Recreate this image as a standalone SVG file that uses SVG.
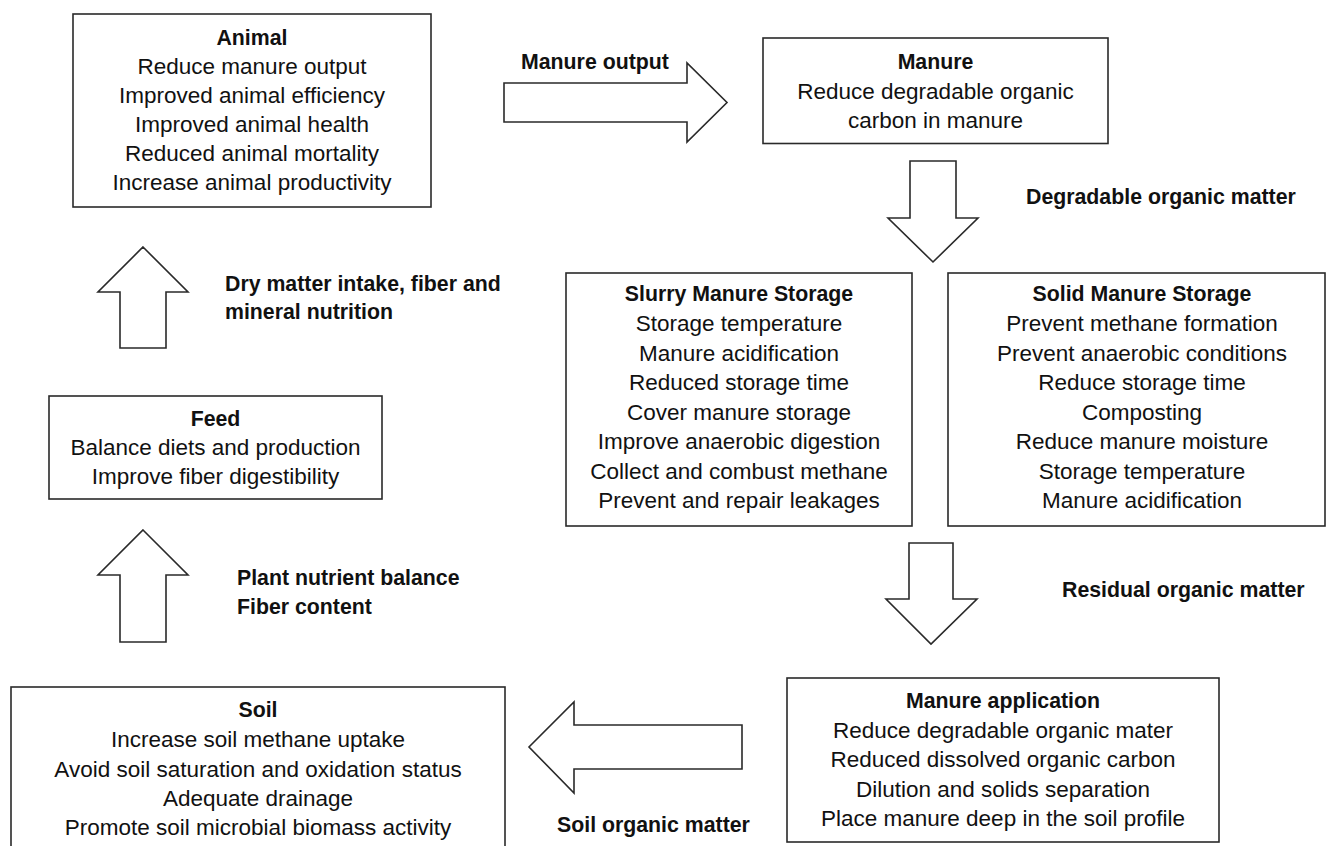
<svg xmlns="http://www.w3.org/2000/svg" width="1330" height="846" viewBox="0 0 1330 846">
<style>
.box{fill:#fff;stroke:#2a2a2a;stroke-width:1.6}
.arr{fill:#fff;stroke:#2a2a2a;stroke-width:1.6;stroke-linejoin:miter}
text{font-family:"Liberation Sans",Arial,sans-serif;fill:#111}
.t{font-size:22.5px;text-anchor:middle}
.h{font-size:21.3px;font-weight:bold;text-anchor:middle}
.lbl{font-size:21.3px;font-weight:bold;text-anchor:start}
</style>
<rect width="1330" height="846" fill="#fff"/>
<g id="connectors">
<polygon class="arr" points="504,83 687,83 687,63 727,102.5 687,142 687,122 504,122"/>
<polygon class="arr" points="910,161 956,161 956,218 978,218 933,262 888,218 910,218"/>
<polygon class="arr" points="909,543 953,543 953,599 977,599 931,644 886,599 909,599"/>
<polygon class="arr" points="742,725 742,769 574,769 574,793 529,747 574,702 574,725"/>
<polygon class="arr" points="143,530 188,575 166,575 166,642 120,642 120,575 98,575"/>
<polygon class="arr" points="143,247 188,292 166,292 166,348 120,348 120,292 98,292"/>
<text class="lbl" x="521" y="69">Manure output</text>
<text class="lbl" x="1026" y="204">Degradable organic matter</text>
<text class="lbl" x="1062" y="597">Residual organic matter</text>
<text class="lbl" x="557" y="832">Soil organic matter</text>
<text class="lbl" x="237" y="585">Plant nutrient balance</text>
<text class="lbl" x="237" y="614">Fiber content</text>
<text class="lbl" x="225" y="291">Dry matter intake, fiber and</text>
<text class="lbl" x="225" y="319">mineral nutrition</text>
</g>
<g id="animal">
<rect class="box" x="73" y="14" width="358" height="193"/>
<text class="h" x="252" y="45">Animal</text>
<text class="t" x="252" y="74">Reduce manure output</text>
<text class="t" x="252" y="103">Improved animal efficiency</text>
<text class="t" x="252" y="132">Improved animal health</text>
<text class="t" x="252" y="160.5">Reduced animal mortality</text>
<text class="t" x="252" y="189.5">Increase animal productivity</text>
</g>
<g id="manure">
<rect class="box" x="763" y="38" width="345" height="105.5"/>
<text class="h" x="935.5" y="69">Manure</text>
<text class="t" x="935.5" y="98.5">Reduce degradable organic</text>
<text class="t" x="935.5" y="127.5">carbon in manure</text>
</g>
<g id="slurry">
<rect class="box" x="566" y="273" width="346" height="253"/>
<text class="h" x="739" y="301">Slurry Manure Storage</text>
<text class="t" x="739" y="331">Storage temperature</text>
<text class="t" x="739" y="361">Manure acidification</text>
<text class="t" x="739" y="390">Reduced storage time</text>
<text class="t" x="739" y="419.5">Cover manure storage</text>
<text class="t" x="739" y="449">Improve anaerobic digestion</text>
<text class="t" x="739" y="478.5">Collect and combust methane</text>
<text class="t" x="739" y="507.5">Prevent and repair leakages</text>
</g>
<g id="solid">
<rect class="box" x="948" y="273" width="377" height="253"/>
<text class="h" x="1142" y="301">Solid Manure Storage</text>
<text class="t" x="1142" y="331">Prevent methane formation</text>
<text class="t" x="1142" y="361">Prevent anaerobic conditions</text>
<text class="t" x="1142" y="390">Reduce storage time</text>
<text class="t" x="1142" y="419.5">Composting</text>
<text class="t" x="1142" y="449">Reduce manure moisture</text>
<text class="t" x="1142" y="478.5">Storage temperature</text>
<text class="t" x="1142" y="507.5">Manure acidification</text>
</g>
<g id="feed">
<rect class="box" x="49" y="396" width="333" height="103"/>
<text class="h" x="215.5" y="426">Feed</text>
<text class="t" x="215.5" y="455">Balance diets and production</text>
<text class="t" x="215.5" y="484">Improve fiber digestibility</text>
</g>
<g id="manure-application">
<rect class="box" x="787" y="678" width="432" height="164"/>
<text class="h" x="1003" y="708">Manure application</text>
<text class="t" x="1003" y="737.5">Reduce degradable organic mater</text>
<text class="t" x="1003" y="767">Reduced dissolved organic carbon</text>
<text class="t" x="1003" y="796.5">Dilution and solids separation</text>
<text class="t" x="1003" y="826">Place manure deep in the soil profile</text>
</g>
<g id="soil">
<rect class="box" x="11" y="687" width="494" height="170"/>
<text class="h" x="258" y="717">Soil</text>
<text class="t" x="258" y="747">Increase soil methane uptake</text>
<text class="t" x="258" y="777">Avoid soil saturation and oxidation status</text>
<text class="t" x="258" y="806">Adequate drainage</text>
<text class="t" x="258" y="835">Promote soil microbial biomass activity</text>
</g>
</svg>
